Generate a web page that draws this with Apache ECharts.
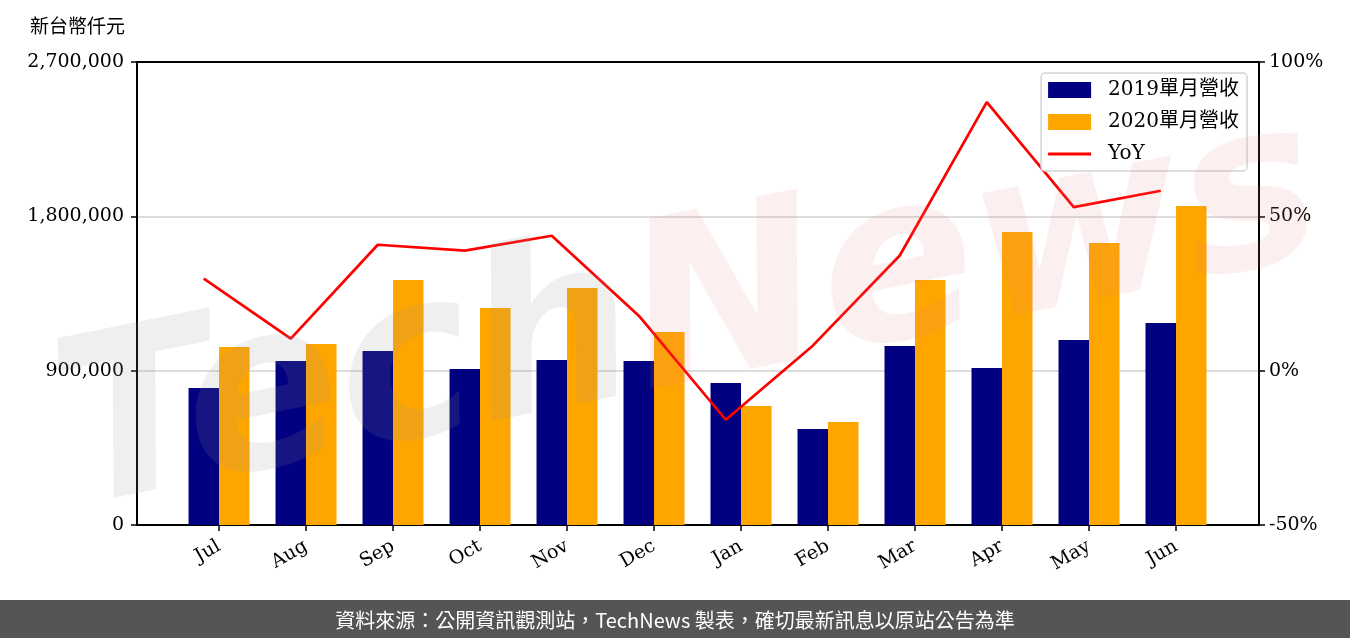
<!DOCTYPE html>
<html>
<head>
<meta charset="utf-8">
<script src="https://cdn.jsdelivr.net/npm/echarts@6/dist/echarts.min.js"></script>
<style>
  html, body { margin: 0; padding: 0; background: #fff; }
  #chart { width: 1350px; height: 638px; }
</style>
</head>
<body>
<div id="chart"></div>
<script>
// 月份
var months = ['Jul', 'Aug', 'Sep', 'Oct', 'Nov', 'Dec', 'Jan', 'Feb', 'Mar', 'Apr', 'May', 'Jun'];
// 單月營收（新台幣仟元）
var rev2019 = [799000, 956000, 1015000, 910000, 962000, 956000, 828000, 560000, 1044000, 916000, 1079000, 1178000];
var rev2020 = [1038000, 1056000, 1429000, 1266000, 1382000, 1126000, 694000, 601000, 1429000, 1709000, 1645000, 1860000];
// 年增率 %
var yoy = [29.8, 10.4, 40.8, 38.9, 43.7, 17.8, -15.9, 8.1, 37.3, 87.0, 53.0, 58.3];

var serif = '"DejaVu Serif", "Noto Sans CJK TC", serif';
var idx = months.map(function (m, i) { return i; });
var barW = 30.5;
var band = 87;   // 每個月份的寬度(px)
var lineShift = barW / 2 / band;  // YoY 線畫在 2019 柱子中間

var blackTick = { show: true, length: 6, lineStyle: { color: '#000', width: 1.5 } };
var blackLine = { show: true, onZero: false, lineStyle: { color: '#000', width: 2 } };

var myChart = echarts.init(document.getElementById('chart'));
var option = {
    backgroundColor: '#fff',
    animation: false,
    textStyle: { fontFamily: serif },
    grid: { left: 137, right: 91, top: 62, bottom: 113 },
    legend: {
        right: 103, top: 73,
        orient: 'vertical',
        itemWidth: 43, itemHeight: 16, itemGap: 12,
        padding: [7, 8, 7, 7],
        backgroundColor: '#fff',
        borderColor: '#d4d4d4', borderWidth: 1.5, borderRadius: 4,
        symbolKeepAspect: true,
        textStyle: { fontFamily: serif, fontSize: 20, color: '#000', padding: [0, 0, 0, 12] },
        data: [
            { name: '2019單月營收', icon: 'rect' },
            { name: '2020單月營收', icon: 'rect' },
            { name: 'YoY', icon: 'path://M0,0L43,0L43,3L0,3Z' }
        ]
    },
    xAxis: [{
        type: 'value',
        min: -0.943, max: 11.954,
        splitLine: { show: false },
        axisLine: blackLine,
        axisTick: { show: true, customValues: idx, length: 6, lineStyle: { color: '#000', width: 1.5 } },
        axisLabel: {
            customValues: idx, rotate: 30, margin: 20,
            fontFamily: serif, fontSize: 19, color: '#000',
            formatter: function (v) { return months[Math.round(v)] || ''; }
        }
    }, {
        // 上框線
        type: 'value', position: 'top',
        min: 0, max: 1,
        axisLine: blackLine,
        axisTick: { show: false }, axisLabel: { show: false }, splitLine: { show: false }
    }],
    yAxis: [{
        type: 'value',
        min: 0, max: 2700000, interval: 900000,
        axisLine: blackLine,
        axisTick: blackTick,
        axisLabel: {
            margin: 13, fontFamily: serif, fontSize: 19, color: '#000',
            formatter: function (v) { return v.toString().replace(/\B(?=(\d{3})+(?!\d))/g, ','); }
        },
        splitLine: { show: true, lineStyle: { color: '#d0d0d0', width: 1.5 } }
    }, {
        type: 'value',
        min: -50, max: 100, interval: 50,
        axisLine: blackLine,
        axisTick: blackTick,
        axisLabel: {
            margin: 10, fontFamily: serif, fontSize: 19, color: '#000',
            formatter: '{value}%'
        },
        splitLine: { show: false }
    }],
    series: [{
        name: '2019單月營收',
        type: 'bar',
        barWidth: barW,
        barGap: '0%',
        itemStyle: { color: '#000080' },
        data: rev2019.map(function (v, i) { return [i, v]; })
    }, {
        name: '2020單月營收',
        type: 'bar',
        barWidth: barW,
        barGap: '0%',
        itemStyle: { color: '#ffa500' },
        data: rev2020.map(function (v, i) { return [i, v]; })
    }, {
        name: 'YoY',
        type: 'line',
        yAxisIndex: 1,
        symbol: 'none',
        lineStyle: { color: '#ff0000', width: 2.7 },
        itemStyle: { color: '#ff0000' },
        data: yoy.map(function (v, i) { return [i - lineShift, v]; })
    }],
    graphic: [{
        type: 'text',
        left: 30, top: 16,
        style: { text: '新台幣仟元', font: '19px "Noto Sans CJK TC", sans-serif', fill: '#000' }
    }, {
        // 浮水印
        type: 'text',
        x: 690, y: 320,
        rotation: 0.2,
        z: 100,
        silent: true,
        style: {
            text: '{a|Tech}{b|News}',
            align: 'center', verticalAlign: 'middle',
            rich: {
                a: { font: 'italic bold 230px "DejaVu Sans", sans-serif', fill: 'rgba(150,150,150,0.15)' },
                b: { font: 'italic bold 230px "DejaVu Sans", sans-serif', fill: 'rgba(230,120,120,0.12)' }
            }
        }
    }, {
        type: 'rect',
        left: 0, bottom: 0,
        shape: { width: 1350, height: 38 },
        style: { fill: '#555555' }
    }, {
        type: 'text',
        left: 'center', bottom: 8,
        style: {
            text: '資料來源：公開資訊觀測站，TechNews 製表，確切最新訊息以原站公告為準',
            font: '20px "Noto Sans CJK TC", sans-serif', fill: '#fff'
        }
    }]
};
myChart.setOption(option);
</script>
</body>
</html>
